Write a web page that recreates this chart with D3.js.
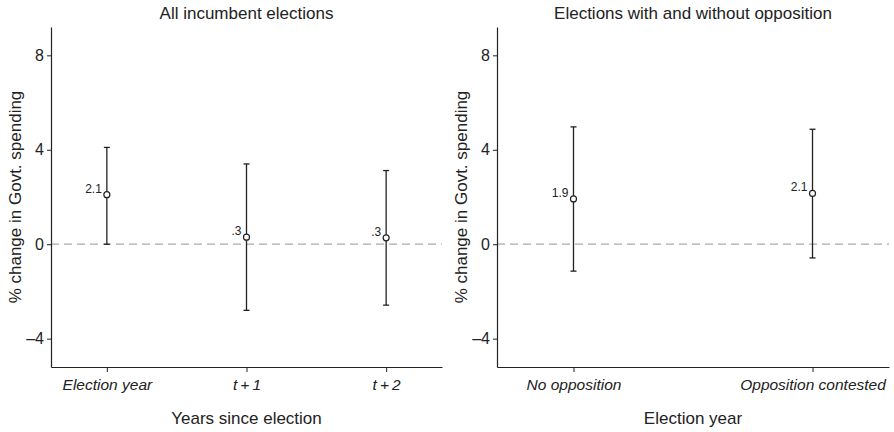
<!DOCTYPE html>
<html>
<head>
<meta charset="utf-8">
<script src="https://cdn.jsdelivr.net/npm/d3@7"></script>
<style>
  body { margin: 0; background: #fff; }
  svg text { font-family: "Liberation Sans", Arial, sans-serif; fill: #222; }
</style>
</head>
<body>
<svg id="chart" width="894" height="432"></svg>
<script>
// panel 1: all incumbent elections
var leftCats = ["Election year", "t\u2009+\u20091", "t\u2009+\u20092"];
var leftEst = [2.1, 0.3, 0.27];
var leftLo = [0.0, -2.8, -2.58];
var leftHi = [4.1, 3.4, 3.12];
var leftLabels = ["2.1", ".3", ".3"];

// panel 2: with and without opposition
var rightCats = ["No opposition", "Opposition contested"];
var rightEst = [1.92, 2.15];
var rightLo = [-1.14, -0.58];
var rightHi = [4.97, 4.87];
var rightLabels = ["1.9", "2.1"];

var yTicks = [-4, 0, 4, 8];

const svg = d3.select('#chart');

function panel(opt) {
    var g = svg.append('g');
    var y = d3.scaleLinear().domain([-5.2, 9.2]).range([367, 27]);
    var x = d3.scalePoint().domain(opt.cats).range([opt.x0, opt.x1]).padding(opt.pad);

    // zero reference line
    g.append('line')
        .attr('x1', opt.x0).attr('x2', opt.x1)
        .attr('y1', y(0)).attr('y2', y(0))
        .attr('stroke', '#aaa')
        .attr('stroke-width', 1.2)
        .attr('stroke-dasharray', '8,5');

    var yAxis = g.append('g')
        .attr('transform', 'translate(' + opt.x0 + ',0)')
        .call(d3.axisLeft(y).tickValues(yTicks).tickSize(4).tickSizeOuter(0).tickPadding(3)
            .tickFormat(d => d < 0 ? '\u2013' + Math.abs(d) : d));
    var xAxis = g.append('g')
        .attr('transform', 'translate(0,' + y.range()[0] + ')')
        .call(d3.axisBottom(x).tickSize(5).tickSizeOuter(0).tickPadding(7));

    [yAxis, xAxis].forEach(a => {
        a.select('.domain').attr('stroke', '#222').attr('stroke-width', 1.2);
        a.selectAll('.tick line').attr('stroke', '#222');
        a.selectAll('text').attr('fill', '#222');
    });
    yAxis.selectAll('text').style('font-size', '16px');
    xAxis.selectAll('text').style('font-size', '15.5px').style('font-style', 'italic');

    var rows = opt.cats.map((c, i) => ({ c: c, est: opt.est[i], lo: opt.lo[i], hi: opt.hi[i], lab: opt.labels[i] }));

    var bars = g.selectAll('.bar').data(rows).enter().append('g');
    bars.append('line')
        .attr('x1', d => x(d.c)).attr('x2', d => x(d.c))
        .attr('y1', d => y(d.lo)).attr('y2', d => y(d.hi))
        .attr('stroke', '#222').attr('stroke-width', 1.3);
    ['lo', 'hi'].forEach(k => {
        bars.append('line')
            .attr('x1', d => x(d.c) - 3).attr('x2', d => x(d.c) + 3)
            .attr('y1', d => y(d[k])).attr('y2', d => y(d[k]))
            .attr('stroke', '#222').attr('stroke-width', 1.3);
    });
    bars.append('circle')
        .attr('cx', d => x(d.c)).attr('cy', d => y(d.est))
        .attr('r', 3)
        .attr('fill', '#fff').attr('stroke', '#222').attr('stroke-width', 1.2);
    bars.append('text')
        .attr('x', d => x(d.c) - 5).attr('y', d => y(d.est) - 2)
        .attr('text-anchor', 'end')
        .style('font-size', '12px')
        .text(d => d.lab);

    g.append('text')
        .attr('x', (opt.x0 + opt.x1) / 2).attr('y', 19)
        .attr('text-anchor', 'middle')
        .style('font-size', '17px')
        .text(opt.title);
    g.append('text')
        .attr('x', (opt.x0 + opt.x1) / 2).attr('y', 424)
        .attr('text-anchor', 'middle')
        .style('font-size', '17px')
        .text(opt.xTitle);
    g.append('text')
        .attr('transform', 'translate(' + (opt.x0 - 30) + ',' + 197 + ') rotate(-90)')
        .attr('text-anchor', 'middle')
        .style('font-size', '17px')
        .text('% change in Govt. spending');
}

panel({ cats: leftCats, est: leftEst, lo: leftLo, hi: leftHi, labels: leftLabels,
    x0: 51, x1: 442, pad: 0.4, title: 'All incumbent elections', xTitle: 'Years since election' });
panel({ cats: rightCats, est: rightEst, lo: rightLo, hi: rightHi, labels: rightLabels,
    x0: 497, x1: 889, pad: 0.32, title: 'Elections with and without opposition', xTitle: 'Election year' });
</script>
</body>
</html>
